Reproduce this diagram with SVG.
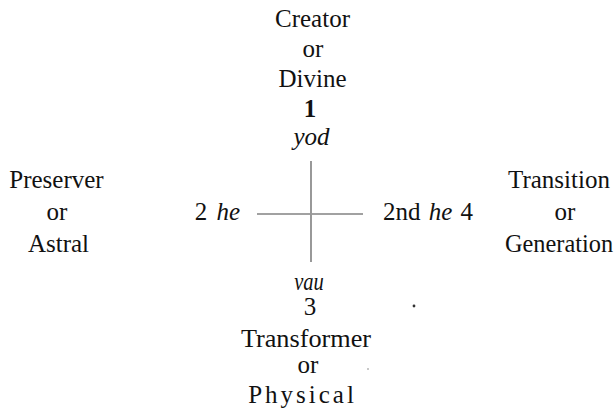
<svg xmlns="http://www.w3.org/2000/svg" width="615" height="414" viewBox="0 0 615 414">
<defs>
<style>
.lbl{font-family:'Liberation Serif','Times New Roman',serif;font-size:25px;fill:#111;text-anchor:middle}
.it{font-style:italic}
.bd{font-weight:bold}
.ln{stroke:#444;stroke-width:1.1;fill:none}
</style>
</defs>
<rect width="615" height="414" fill="#fff"/>
<g id="connectors">
<line class="ln" x1="311" y1="161" x2="311" y2="262"/>
<line class="ln" x1="257" y1="214" x2="310" y2="214"/>
<line class="ln" x1="312" y1="214" x2="363" y2="214"/>
</g>
<g class="lbl">
<g id="node-top">
<text x="312.5" y="27">Creator</text>
<text x="313" y="57">or</text>
<text x="312.5" y="87">Divine</text>
<text x="310" y="117" class="bd">1</text>
<text x="311.5" y="145" class="it">yod</text>
</g>
<g id="node-left">
<text x="56.5" y="188">Preserver</text>
<text x="57" y="220">or</text>
<text x="58.5" y="252">Astral</text>
</g>
<g id="label-left">
<text x="217.5" y="220" word-spacing="3">2 <tspan class="it">he</tspan></text>
</g>
<g id="label-right">
<text x="428" y="220" word-spacing="2">2nd <tspan class="it">he</tspan> 4</text>
</g>
<g id="node-right">
<text x="559" y="188">Transition</text>
<text x="565" y="220">or</text>
<text x="559" y="252" transform="translate(559 0) scale(0.975 1) translate(-559 0)">Generation</text>
</g>
<g id="node-bottom">
<text x="309" y="290" class="it" transform="translate(309 0) scale(0.82 1) translate(-309 0)">vau</text>
<text x="310" y="315">3</text>
<text x="306" y="347" transform="translate(306 0) scale(1.05 1) translate(-306 0)">Transformer</text>
<text x="308" y="373">or</text>
<text x="302.5" y="403" letter-spacing="3">Physical</text>
</g>
</g>
<circle cx="414" cy="306" r="1.4" fill="#333"/>
<circle cx="368" cy="369" r="0.7" fill="#666"/>
</svg>
